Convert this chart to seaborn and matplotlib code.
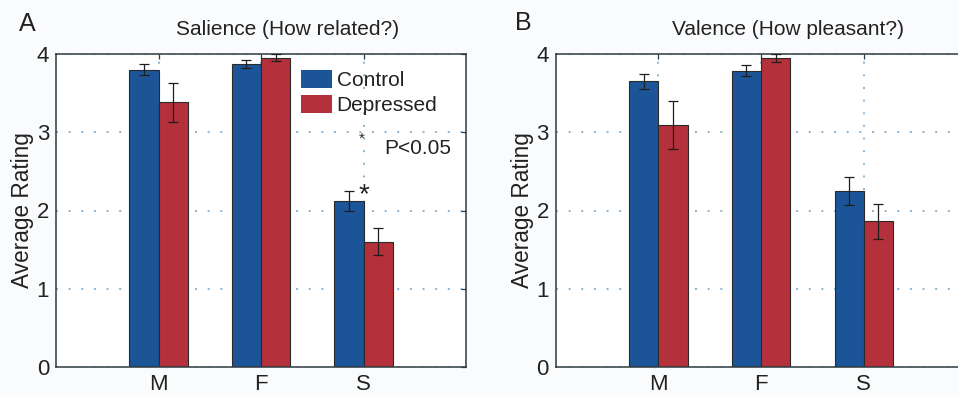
import matplotlib
matplotlib.use("Agg")
import matplotlib.pyplot as plt
from matplotlib.patches import Patch
import seaborn as sns
import pandas as pd

# ---- data ----
categories = ["M", "F", "S"]
groups = ["Control", "Depressed"]

salience_control = [3.80, 3.87, 2.12]
salience_control_err = [0.07, 0.05, 0.13]
salience_depressed = [3.385, 3.95, 1.60]
salience_depressed_err = [0.25, 0.045, 0.175]

valence_control = [3.65, 3.785, 2.25]
valence_control_err = [0.095, 0.07, 0.18]
valence_depressed = [3.09, 3.945, 1.86]
valence_depressed_err = [0.31, 0.05, 0.22]

y_ticks = [0, 1, 2, 3, 4]
titles = ["Salience (How related?)", "Valence (How pleasant?)"]
panel_letters = ["A", "B"]
ylabel = "Average Rating"

BLUE = "#1b5597"
RED = "#b4303b"
SPINE = "#2e3a3d"
GRID = "#86b6d6"

sns.set_theme(style="white")
plt.rcParams["font.family"] = ["Liberation Sans", "DejaVu Sans"]

W, H = 958, 395
fig = plt.figure(figsize=(W / 100, H / 100), dpi=100)
fig.patch.set_facecolor("#fafbfd")


def px_axes(left, top, right, bottom):
    return fig.add_axes([left / W, 1 - bottom / H, (right - left) / W, (bottom - top) / H])


axA = px_axes(56, 54, 466, 367)
axB = px_axes(555.7, 54, 966.5, 367)

panels = [
    (axA, salience_control, salience_control_err, salience_depressed, salience_depressed_err),
    (axB, valence_control, valence_control_err, valence_depressed, valence_depressed_err),
]

for i, (ax, c, ce, d, de) in enumerate(panels):
    df = pd.DataFrame({
        "category": categories * 2,
        "group": [groups[0]] * 3 + [groups[1]] * 3,
        "value": list(c) + list(d),
    })
    errs = [list(ce), list(de)]
    sns.barplot(data=df, x="category", y="value", hue="group", order=categories,
                hue_order=groups, palette=[BLUE, RED], width=0.57, errorbar=None,
                edgecolor="#2a2a2a", linewidth=0.8, saturation=1, legend=False, ax=ax,
                zorder=2)
    for cont, err in zip(ax.containers, errs):
        xs = [p.get_x() + p.get_width() / 2 for p in cont.patches]
        ys = [p.get_height() for p in cont.patches]
        ax.errorbar(xs, ys, yerr=err, fmt="none", ecolor="#1e1e1e", elinewidth=0.9,
                    capsize=3.3, capthick=0.9, zorder=3)

    ax.set_xlim(-1, 3)
    ax.set_ylim(0, 4)
    ax.set_yticks(y_ticks)
    ax.set_yticklabels([str(t) for t in y_ticks])
    ax.set_xlabel("")
    ax.set_ylabel(ylabel, fontsize=16.3, color="#222222")
    ax.yaxis.set_label_coords(-0.053, 0.5)
    ax.set_facecolor("white")
    ax.set_axisbelow(True)
    ax.grid(True, linestyle=(0, (1, 5.5)), color=GRID, linewidth=1.4)
    ax.tick_params(direction="in", top=True, right=True, length=3.5, width=0.9,
                   color=SPINE, labelsize=16, labelcolor="#222222", pad=5)
    for s in ax.spines.values():
        s.set_color(SPINE)
        s.set_linewidth(1.1)
        s.set_visible(True)

# titles and panel letters
fig.text(288 / W, 1 - 35 / H, titles[0], ha="center", va="baseline", fontsize=15, color="#222222")
fig.text(788 / W, 1 - 35 / H, titles[1], ha="center", va="baseline", fontsize=15, color="#222222")
fig.text(19 / W, 1 - 31 / H, panel_letters[0], ha="left", va="baseline", fontsize=18, color="#222222")
fig.text(515 / W, 1 - 30 / H, panel_letters[1], ha="left", va="baseline", fontsize=18, color="#222222")

# legend in panel A
handles = [Patch(facecolor=BLUE, edgecolor="none"), Patch(facecolor=RED, edgecolor="none")]
axA.legend(handles=handles, labels=groups, loc="upper left",
           bbox_to_anchor=(300.7 / W, 1 - 70.2 / H), bbox_transform=fig.transFigure,
           frameon=False, fontsize=15, handlelength=1.5, handleheight=0.96,
           handletextpad=0.22, labelspacing=0.2, borderpad=0, borderaxespad=0,
           labelcolor="#222222")

# significance annotation
axA.text(2.0, 2.11, "*", ha="center", va="baseline", fontsize=20, color="#222222")
axA.text(1.985, 2.87, "*", ha="center", va="baseline", fontsize=11, color="#222222")
axA.text(2.2, 2.72, "P<0.05", ha="left", va="baseline", fontsize=15, color="#222222")

fig.savefig("out.png", dpi=100, facecolor=fig.get_facecolor())
